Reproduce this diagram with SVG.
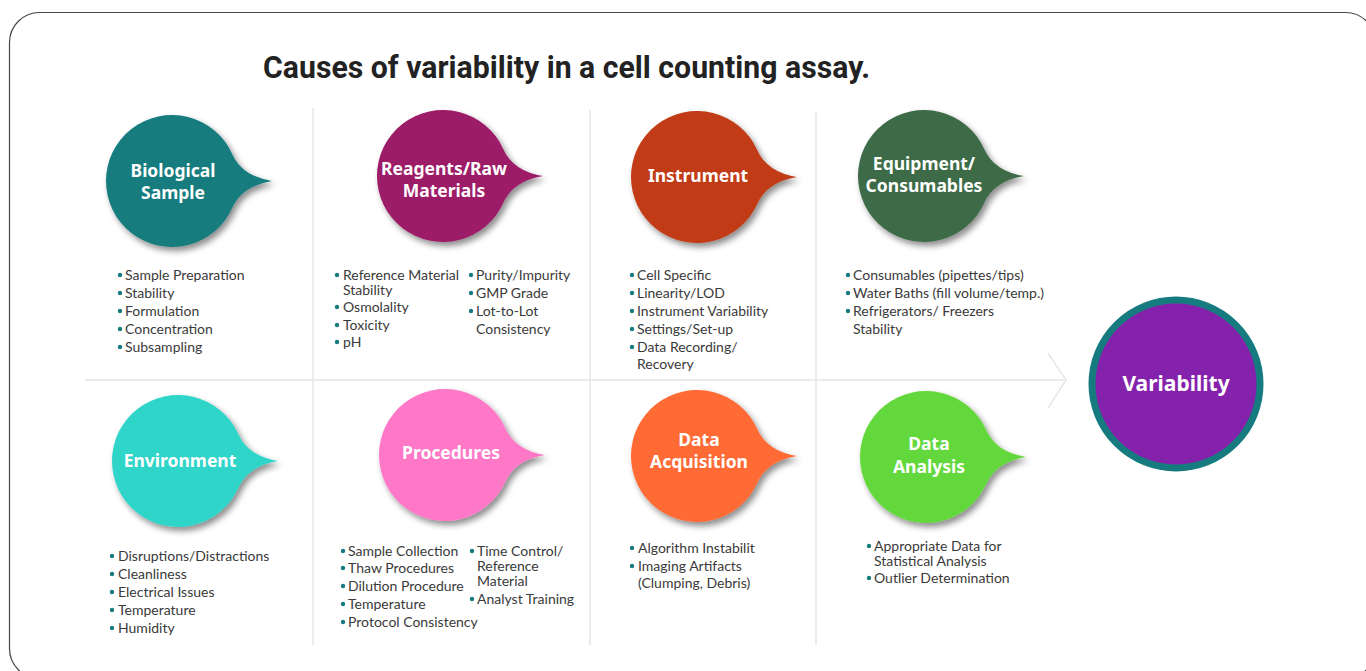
<svg xmlns="http://www.w3.org/2000/svg" xmlns:xlink="http://www.w3.org/1999/xlink" width="1366" height="671" viewBox="0 0 1366 671">
  <style>
    .title { font-family: Roboto, "Liberation Sans", sans-serif; font-weight: 700; font-size: 31px; fill: #222; }
    .lbl { font-family: "Noto Sans", Lato, sans-serif; font-weight: 700; font-size: 17.5px; fill: #fff; text-anchor: middle; }
    .item { font-family: Lato, "Noto Sans", sans-serif; font-size: 14px; fill: #3a3a3a; }
    .dot { fill: #167B7E; }
    .grid { stroke: #e6e6e6; stroke-width: 1.5; fill: none; }
  </style>
  <defs>
    <filter id="shadow" x="-30%" y="-30%" width="160%" height="160%">
      <feDropShadow dx="3" dy="4" stdDeviation="3" flood-color="#000" flood-opacity="0.45"/>
    </filter>
    <!-- speech bubble: circle r=66 at origin with a tail pointing right -->
    <path id="bubble" d="M 60.3 -26.8 A 66 66 0 1 0 60.3 26.8 Q 70 5 100 0 Q 70 -5 60.3 -26.8 Z"/>
  </defs>

  <!-- frame -->
  <rect x="9.5" y="12.5" width="1366" height="666" rx="30" fill="#fff" stroke="#444" stroke-width="1.2"/>

  <text class="title" x="263" y="78" textLength="607" lengthAdjust="spacingAndGlyphs">Causes of variability in a cell counting assay.</text>

  <!-- connectors: column dividers and the flow arrow -->
  <g id="connectors">
    <line class="grid" x1="313" y1="108" x2="313" y2="645"/>
    <line class="grid" x1="590" y1="110" x2="590" y2="645"/>
    <line class="grid" x1="816" y1="112" x2="816" y2="645"/>
    <line class="grid" x1="85" y1="380" x2="1064" y2="380"/>
    <polyline class="grid" points="1048,353 1066,380 1048,408"/>
  </g>

  <!-- top row -->
  <g id="biological-sample">
    <use xlink:href="#bubble" transform="translate(172,181)" fill="#167B7E" filter="url(#shadow)"/>
    <text class="lbl" x="173" y="177">Biological<tspan x="173" dy="22">Sample</tspan></text>
    <g class="item">
      <circle class="dot" cx="120" cy="275" r="2.2"/><text x="125" y="280">Sample Preparation</text>
      <circle class="dot" cx="120" cy="293" r="2.2"/><text x="125" y="298">Stability</text>
      <circle class="dot" cx="120" cy="311" r="2.2"/><text x="125" y="316">Formulation</text>
      <circle class="dot" cx="120" cy="329" r="2.2"/><text x="125" y="334">Concentration</text>
      <circle class="dot" cx="120" cy="347" r="2.2"/><text x="125" y="352">Subsampling</text>
    </g>
  </g>

  <g id="reagents">
    <use xlink:href="#bubble" transform="translate(443,176)" fill="#9C1A68" filter="url(#shadow)"/>
    <text class="lbl" x="444" y="175">Reagents/Raw<tspan x="444" dy="22">Materials</tspan></text>
    <g class="item">
      <circle class="dot" cx="337" cy="275" r="2.2"/><text x="343" y="280">Reference Material<tspan x="343" dy="15">Stability</tspan></text>
      <circle class="dot" cx="337" cy="307" r="2.2"/><text x="343" y="312">Osmolality</text>
      <circle class="dot" cx="337" cy="325" r="2.2"/><text x="343" y="330">Toxicity</text>
      <circle class="dot" cx="337" cy="342" r="2.2"/><text x="343" y="347">pH</text>
      <circle class="dot" cx="471" cy="275" r="2.2"/><text x="476" y="280">Purity/Impurity</text>
      <circle class="dot" cx="471" cy="293" r="2.2"/><text x="476" y="298">GMP Grade</text>
      <circle class="dot" cx="471" cy="311" r="2.2"/><text x="476" y="316">Lot-to-Lot<tspan x="476" dy="18">Consistency</tspan></text>
    </g>
  </g>

  <g id="instrument">
    <use xlink:href="#bubble" transform="translate(697,177)" fill="#C13B13" filter="url(#shadow)"/>
    <text class="lbl" x="698" y="182">Instrument</text>
    <g class="item">
      <circle class="dot" cx="632" cy="275" r="2.2"/><text x="637" y="280">Cell Specific</text>
      <circle class="dot" cx="632" cy="293" r="2.2"/><text x="637" y="298">Linearity/LOD</text>
      <circle class="dot" cx="632" cy="311" r="2.2"/><text x="637" y="316">Instrument Variability</text>
      <circle class="dot" cx="632" cy="329" r="2.2"/><text x="637" y="334">Settings/Set-up</text>
      <circle class="dot" cx="632" cy="347" r="2.2"/><text x="637" y="352">Data Recording/<tspan x="637" dy="17">Recovery</tspan></text>
    </g>
  </g>

  <g id="equipment">
    <use xlink:href="#bubble" transform="translate(924,176)" fill="#3E6B46" filter="url(#shadow)"/>
    <text class="lbl" x="924" y="170">Equipment/<tspan x="924" dy="22">Consumables</tspan></text>
    <g class="item">
      <circle class="dot" cx="848" cy="275" r="2.2"/><text x="853" y="280">Consumables (pipettes/tips)</text>
      <circle class="dot" cx="848" cy="293" r="2.2"/><text x="853" y="298">Water Baths (fill volume/temp.)</text>
      <circle class="dot" cx="848" cy="311" r="2.2"/><text x="853" y="316">Refrigerators/ Freezers<tspan x="853" dy="18">Stability</tspan></text>
    </g>
  </g>

  <!-- bottom row -->
  <g id="environment">
    <use xlink:href="#bubble" transform="translate(178,461)" fill="#2ED5C8" filter="url(#shadow)"/>
    <text class="lbl" x="180" y="467">Environment</text>
    <g class="item">
      <circle class="dot" cx="112" cy="556" r="2.2"/><text x="118" y="561">Disruptions/Distractions</text>
      <circle class="dot" cx="112" cy="574" r="2.2"/><text x="118" y="579">Cleanliness</text>
      <circle class="dot" cx="112" cy="592" r="2.2"/><text x="118" y="597">Electrical Issues</text>
      <circle class="dot" cx="112" cy="610" r="2.2"/><text x="118" y="615">Temperature</text>
      <circle class="dot" cx="112" cy="628" r="2.2"/><text x="118" y="633">Humidity</text>
    </g>
  </g>

  <g id="procedures">
    <use xlink:href="#bubble" transform="translate(445,455)" fill="#FF78C8" filter="url(#shadow)"/>
    <text class="lbl" x="451" y="459">Procedures</text>
    <g class="item">
      <circle class="dot" cx="343" cy="551" r="2.2"/><text x="348" y="556">Sample Collection</text>
      <circle class="dot" cx="343" cy="568" r="2.2"/><text x="348" y="573">Thaw Procedures</text>
      <circle class="dot" cx="343" cy="586" r="2.2"/><text x="348" y="591">Dilution Procedure</text>
      <circle class="dot" cx="343" cy="604" r="2.2"/><text x="348" y="609">Temperature</text>
      <circle class="dot" cx="343" cy="622" r="2.2"/><text x="348" y="627">Protocol Consistency</text>
      <circle class="dot" cx="472" cy="551" r="2.2"/><text x="477" y="556">Time Control/<tspan x="477" dy="15">Reference</tspan><tspan x="477" dy="15">Material</tspan></text>
      <circle class="dot" cx="472" cy="599" r="2.2"/><text x="477" y="604">Analyst Training</text>
    </g>
  </g>

  <g id="data-acquisition">
    <use xlink:href="#bubble" transform="translate(697,456)" fill="#FF6A34" filter="url(#shadow)"/>
    <text class="lbl" x="699" y="446">Data<tspan x="699" dy="22">Acquisition</tspan></text>
    <g class="item">
      <circle class="dot" cx="632" cy="548" r="2.2"/><text x="638" y="553">Algorithm Instabilit</text>
      <circle class="dot" cx="632" cy="566" r="2.2"/><text x="638" y="571">Imaging Artifacts<tspan x="638" dy="17">(Clumping, Debris)</tspan></text>
    </g>
  </g>

  <g id="data-analysis">
    <use xlink:href="#bubble" transform="translate(926,457)" fill="#64D83C" filter="url(#shadow)"/>
    <text class="lbl" x="929" y="450">Data<tspan x="929" dy="23">Analysis</tspan></text>
    <g class="item">
      <circle class="dot" cx="869" cy="546" r="2.2"/><text x="874" y="551">Appropriate Data for<tspan x="874" dy="15">Statistical Analysis</tspan></text>
      <circle class="dot" cx="869" cy="578" r="2.2"/><text x="874" y="583">Outlier Determination</text>
    </g>
  </g>

  <!-- outcome -->
  <g id="variability">
    <circle cx="1176" cy="384" r="84" fill="#8522AC" stroke="#167B7E" stroke-width="7"/>
    <text class="lbl" x="1176" y="391" style="font-size:21px">Variability</text>
  </g>
</svg>
